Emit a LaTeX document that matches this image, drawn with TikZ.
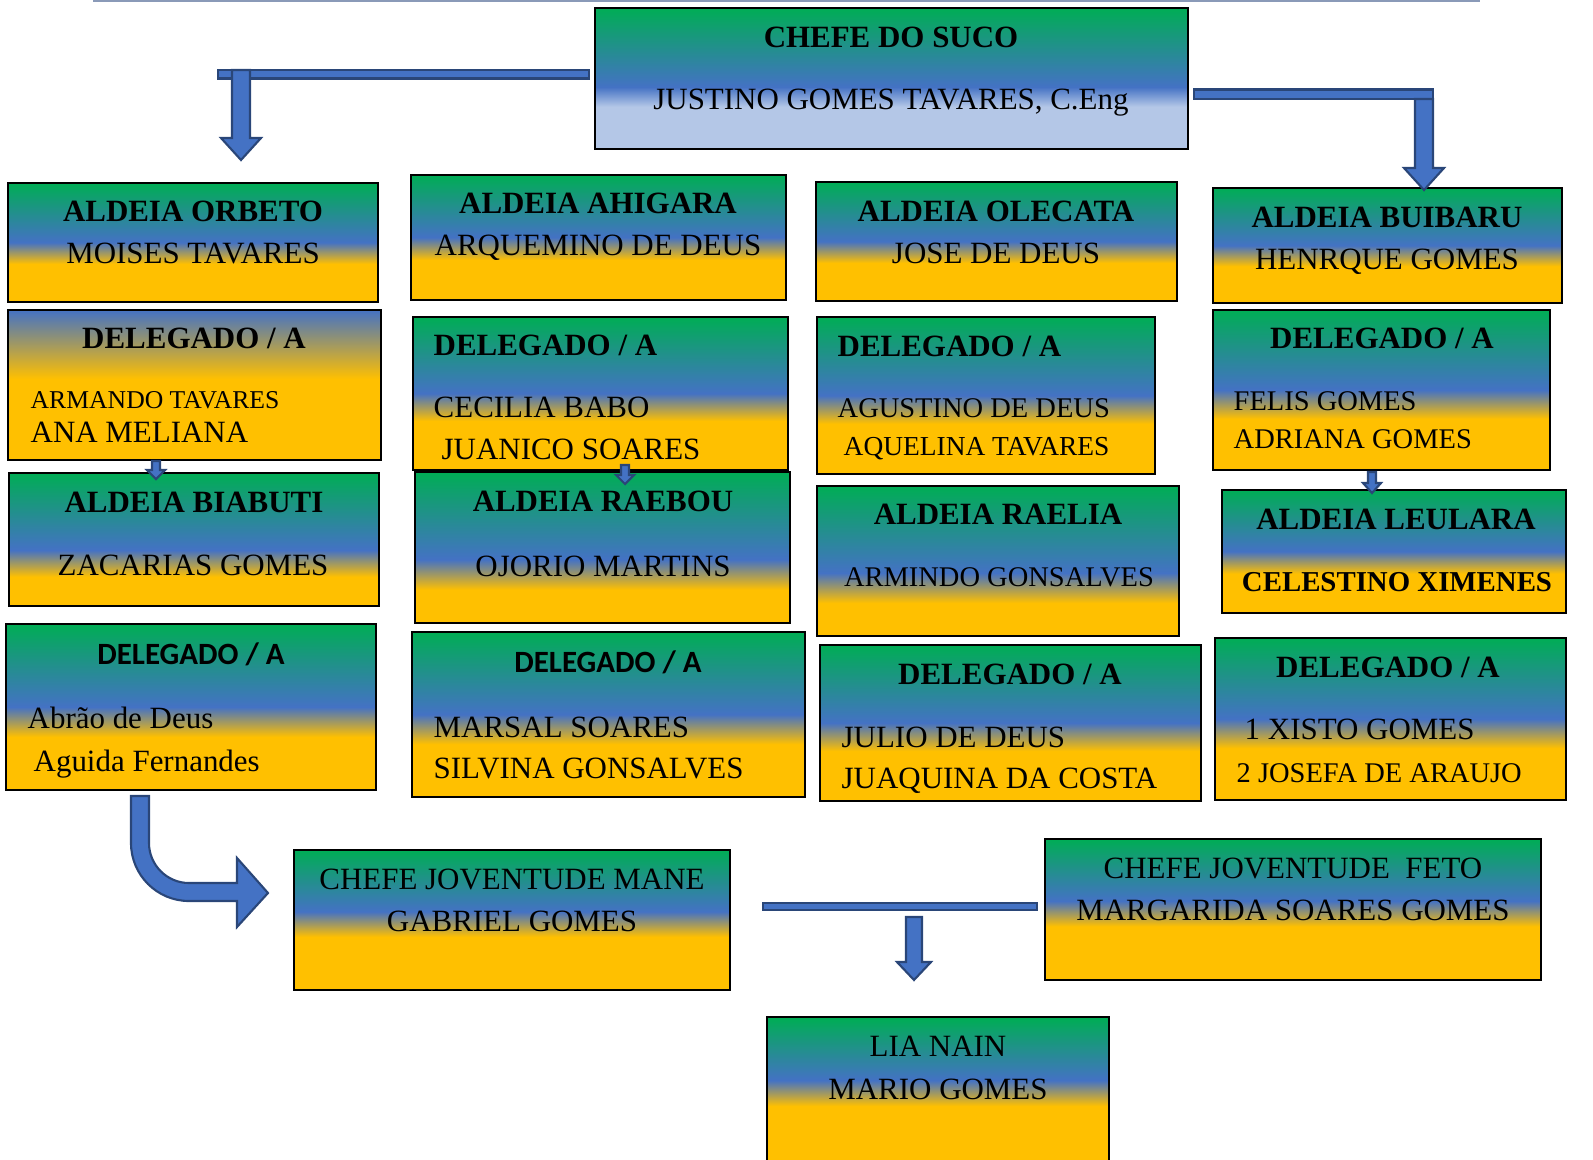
\documentclass[tikz,border=0pt]{standalone}
\usepackage{fontspec}
\setmainfont{Liberation Serif}
\newfontfamily\calib{Carlito}
\usetikzlibrary{calc,fit}

\definecolor{grn}{HTML}{00AD55}
\definecolor{blu}{HTML}{4472C4}
\definecolor{ylw}{HTML}{FFC000}
\definecolor{lblu}{HTML}{B4C7E7}
\definecolor{adark}{HTML}{2A4678}
\definecolor{topline}{HTML}{8A9AB8}

\pgfdeclareverticalshading{gby}{100bp}{color(0bp)=(ylw); color(41bp)=(ylw); color(50bp)=(blu); color(75bp)=(grn); color(100bp)=(grn)}
\pgfdeclareverticalshading{gbylow}{100bp}{color(0bp)=(ylw); color(36bp)=(ylw); color(46bp)=(blu); color(75bp)=(grn); color(100bp)=(grn)}
\pgfdeclareverticalshading{gbyhigh}{100bp}{color(0bp)=(ylw); color(44bp)=(ylw); color(53bp)=(blu); color(75bp)=(grn); color(100bp)=(grn)}
\pgfdeclareverticalshading{gbl}{100bp}{color(0bp)=(lblu); color(40bp)=(lblu); color(47bp)=(blu); color(75bp)=(grn); color(100bp)=(grn)}
\pgfdeclareverticalshading{by}{100bp}{color(0bp)=(ylw); color(52bp)=(ylw); color(75bp)=(blu); color(100bp)=(blu)}

% block arrow pointing down: from, tip, shaft half width, head half width, head length
\newcommand{\downarr}[5]{%
  \draw[barrow] ($#1+(-#3,0)$) -- ($#2+(-#3,-#5)$) -- ($#2+(-#4,-#5)$) -- #2
    -- ($#2+(#4,-#5)$) -- ($#2+(#3,-#5)$) -- ($#1+(#3,0)$) -- cycle;}

\begin{document}
\begin{tikzpicture}[x=0.01cm, y=-0.01cm]

\tikzstyle{box}=[draw, line width=0.7pt, inner sep=0pt, shade, shading=gby]
\tikzstyle{ttl}=[inner sep=0pt, text height=5.8pt, text depth=0pt, font=\fontsize{8.8}{10}\selectfont\bfseries]
\tikzstyle{sttl}=[ttl, font=\fontsize{8.8}{10}\selectfont\calib\bfseries]
\tikzstyle{nm}=[inner sep=0pt, text height=5.8pt, text depth=0pt, font=\fontsize{8.8}{10}\selectfont]
\tikzstyle{nms}=[nm, font=\fontsize{8.1}{10}\selectfont]
\tikzstyle{barrow}=[fill=blu, draw=adark, line width=0.6pt]

\useasboundingbox (0,0) rectangle (1593,1160);
\draw[topline, line width=0.6pt] (93,1) -- (1480,1);

% chefe do suco
\node[box, shading=gbl, fit={(595,8) (1188,149)}] (chief) {};
\node[ttl] (chief-t) at (891,37) {CHEFE DO SUCO};
\node[nm] (chief-n) at (891,99) {JUSTINO GOMES TAVARES, C.Eng};

% aldeias, first row
\node[box, fit={(8,183) (378,302)}] (orbeto) {};
\node[ttl] (orbeto-t) at (193,211) {ALDEIA ORBETO};
\node[nm] (orbeto-n) at (193,253) {MOISES TAVARES};

\node[box, fit={(411,175) (786,300)}] (ahigara) {};
\node[ttl] (ahigara-t) at (598,203) {ALDEIA AHIGARA};
\node[nm] (ahigara-n) at (598,245) {ARQUEMINO DE DEUS};

\node[box, fit={(816,182) (1177,301)}] (olecata) {};
\node[ttl] (olecata-t) at (996,211) {ALDEIA OLECATA};
\node[nm] (olecata-n) at (996,253) {JOSE DE DEUS};

\node[box, fit={(1213,188) (1562,303)}] (buibaru) {};
\node[ttl] (buibaru-t) at (1387,217) {ALDEIA BUIBARU};
\node[nm] (buibaru-n) at (1387,259) {HENRQUE GOMES};

% delegados, first row
\node[box, shading=by, fit={(8,310) (381,460)}] (del-orbeto) {};
\node[ttl] (del-orbeto-t) at (194,338) {DELEGADO / A};
\node[nm, anchor=west, font=\fontsize{7.3}{9}\selectfont] (del-orbeto-a) at (30,398) {ARMANDO TAVARES};
\node[nm, anchor=west] (del-orbeto-b) at (30,432) {ANA MELIANA};

\node[box, fit={(413,317) (788,470)}] (del-ahigara) {};
\node[ttl, anchor=west] (del-ahigara-t) at (433,345) {DELEGADO / A};
\node[nm, anchor=west] (del-ahigara-a) at (433,407) {CECILIA BABO};
\node[nm, anchor=west] (del-ahigara-b) at (441,449) {JUANICO SOARES};

\node[box, fit={(817,317) (1155,474)}] (del-olecata) {};
\node[ttl, anchor=west] (del-olecata-t) at (837,346) {DELEGADO / A};
\node[nms, anchor=west] (del-olecata-a) at (837,407) {AGUSTINO DE DEUS};
\node[nm, anchor=west, font=\fontsize{7.8}{9}\selectfont] (del-olecata-b) at (843,445) {AQUELINA TAVARES};

\node[box, fit={(1213,310) (1550,470)}] (del-buibaru) {};
\node[ttl] (del-buibaru-t) at (1382,338) {DELEGADO / A};
\node[nms, anchor=west] (del-buibaru-a) at (1233,400) {FELIS GOMES};
\node[nms, anchor=west] (del-buibaru-b) at (1233,438) {ADRIANA GOMES};

% aldeias, second row
\node[box, shading=gbylow, fit={(9,473) (379,606)}] (biabuti) {};
\node[ttl] (biabuti-t) at (194,502) {ALDEIA BIABUTI};
\node[nm] (biabuti-n) at (193,565) {ZACARIAS GOMES};

\node[box, shading=gbylow, fit={(415,472) (790,623)}] (raebou) {};
\node[ttl] (raebou-t) at (603,501) {ALDEIA RAEBOU};
\node[nm] (raebou-n) at (603,566) {OJORIO MARTINS};

\node[box, shading=gbylow, fit={(817,486) (1179,636)}] (raelia) {};
\node[ttl] (raelia-t) at (998,514) {ALDEIA RAELIA};
\node[nms] (raelia-n) at (999,576) {ARMINDO GONSALVES};

\node[box, fit={(1222,490) (1566,613)}] (leulara) {};
\node[ttl] (leulara-t) at (1396,519) {ALDEIA LEULARA};
\node[ttl, font=\fontsize{8.2}{10}\selectfont\bfseries] (leulara-n) at (1397,581) {CELESTINO XIMENES};

% delegados, second row
\node[box, fit={(6,624) (376,790)}] (del-biabuti) {};
\node[sttl] (del-biabuti-t) at (191,654) {DELEGADO / A};
\node[nm, anchor=west] (del-biabuti-a) at (27,718) {Abrão de Deus};
\node[nm, anchor=west] (del-biabuti-b) at (33,761) {Aguida Fernandes};

\node[box, fit={(412,632) (805,797)}] (del-raebou) {};
\node[sttl] (del-raebou-t) at (608,662) {DELEGADO / A};
\node[nm, anchor=west] (del-raebou-a) at (433,727) {MARSAL SOARES};
\node[nm, anchor=west] (del-raebou-b) at (433,768) {SILVINA GONSALVES};

\node[box, fit={(820,645) (1201,801)}] (del-raelia) {};
\node[ttl] (del-raelia-t) at (1010,674) {DELEGADO / A};
\node[nm, anchor=west] (del-raelia-a) at (841,737) {JULIO DE DEUS};
\node[nm, anchor=west] (del-raelia-b) at (841,778) {JUAQUINA DA COSTA};

\node[box, fit={(1215,638) (1566,800)}] (del-leulara) {};
\node[ttl] (del-leulara-t) at (1388,667) {DELEGADO / A};
\node[nm, anchor=west] (del-leulara-a) at (1244,729) {1 XISTO GOMES};
\node[nms, anchor=west] (del-leulara-b) at (1236,772) {2 JOSEFA DE ARAUJO};

% juventude and lia nain
\node[box, shading=gbyhigh, fit={(294,850) (730,990)}] (mane) {};
\node[nm] (mane-t) at (512,879) {CHEFE JOVENTUDE MANE};
\node[nm] (mane-n) at (512,921) {GABRIEL GOMES};

\node[box, shading=gbyhigh, fit={(1045,839) (1541,980)}] (feto) {};
\node[nm] (feto-t) at (1293,868) {CHEFE JOVENTUDE\ \ FETO};
\node[nm] (feto-n) at (1293,910) {MARGARIDA SOARES GOMES};

% lia nain runs off the bottom of the page
\node[box, draw=none, shading=gbyhigh, fit={(768,1018) (1108,1160)}] (lianain) {};
\draw[line width=0.7pt] (lianain.south west) -- (lianain.north west) -- (lianain.north east) -- (lianain.south east);
\node[nm] (lianain-t) at (938,1046) {LIA NAIN};
\node[nm] (lianain-n) at (938,1089) {MARIO GOMES};

% arrows from chefe do suco
\coordinate (lbend) at (241,70);
\coordinate (ltip) at (241,160);
\draw[barrow] (218,70) rectangle ($(chief.west)+(-5,0)$);
\downarr{(lbend)}{(ltip)}{9}{20}{22}

\coordinate (rbend) at (1424,99);
\coordinate (rtip) at (1424,190);
\draw[barrow] ($(chief.east)+(5,11)$) rectangle (1433,99);
\downarr{(rbend)}{(rtip)}{9}{20}{22}

% small arrows delegado -> aldeia
\downarr{(156,461)}{(156,479)}{4}{9}{9}
\downarr{(625,465)}{(625,484)}{4}{9}{9}
\downarr{(1372,472)}{(1372,493)}{4}{9}{10}

% curved arrow to chefe joventude mane
\draw[barrow] (149,796) -- (131,796) -- (131,843) .. controls (131,875) and (157,901) .. (189,901)
  -- (237,901) -- (237,927) -- (268,893) -- (237,858) -- (237,883) -- (189,883)
  .. controls (167,883) and (149,865) .. (149,843) -- cycle;

% joventude -> lia nain
\coordinate (jbar) at (914,917);
\coordinate (jtip) at (914,980);
\draw[barrow] (763,903) rectangle (1037,910);
\downarr{(jbar)}{(jtip)}{8}{17}{18}

\end{tikzpicture}
\end{document}
